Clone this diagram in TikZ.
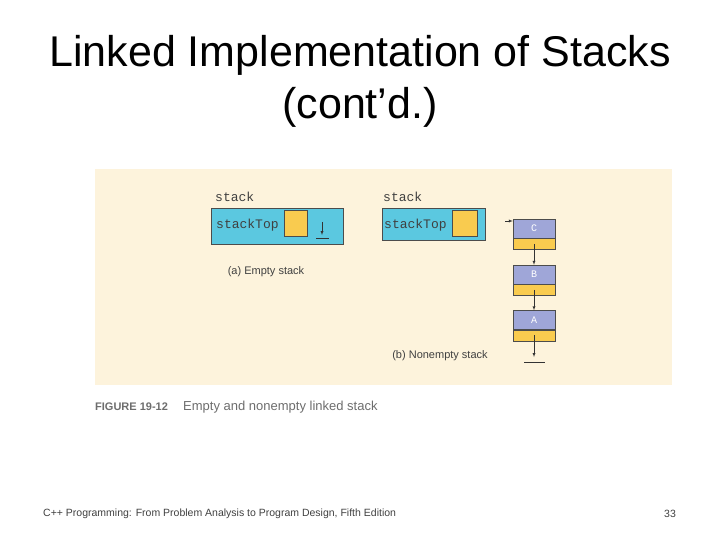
\documentclass[tikz,border=0pt]{standalone}
\usepackage{fontspec}
\setmainfont{Liberation Sans}
\setmonofont{Liberation Mono}
\usetikzlibrary{arrows, positioning}
\definecolor{cream}{HTML}{FDF3DC}
\definecolor{boxcyan}{HTML}{5BC8E0}
\definecolor{cellyel}{HTML}{F9CB4F}
\definecolor{cellpur}{HTML}{9FA6D8}
\definecolor{capgray}{HTML}{6D6D6D}

\begin{document}
\begin{tikzpicture}[x=1pt, y=-1pt,
    stackbox/.style={draw=black!70, fill=boxcyan},
    topcell/.style={draw=black!70, fill=cellyel},
    infocell/.style={rectangle, draw=black!70, fill=cellpur, minimum width=42pt, minimum height=19pt, inner sep=0pt, text=white, font=\ttfamily\fontsize{10}{11}\selectfont},
    linkcell/.style={rectangle, draw=black!70, fill=cellyel, minimum width=42pt, minimum height=11pt, inner sep=0pt},
    mono/.style={font=\ttfamily\fontsize{13}{14}\selectfont, text=black!75, inner sep=0pt},
    note/.style={font=\fontsize{11}{12}\selectfont, text=black!75, inner sep=0pt},
    link/.style={->, >=latex, black!80}
]
\useasboundingbox (0,0) rectangle (720,540);

% Title
\node[font=\fontsize{43}{52}\selectfont, align=center] (title) at (360,81) {Linked Implementation of Stacks\\(cont'd.)};

% Figure panel
\fill[cream] (95,169) rectangle (672,385);

% (a) empty stack
\node[mono, anchor=west] (labela) at (215,197) {stack};
\draw[stackbox] (211,208) rectangle (343,244);
\node[mono, anchor=west] (topa) at (216,225) {stackTop};
\draw[topcell] (284,210) rectangle (307,236);
\coordinate (nulla) at (322,235);
\draw[link] (322,222) -- (nulla);
\draw[black!80] (316,238) -- (329,238);
\node[note] (capa) at (266,272) {(a) Empty stack};

% (b) nonempty stack
\node[mono, anchor=west] (labelb) at (383,197) {stack};
\draw[stackbox] (382,208) rectangle (485,240);
\node[mono, anchor=west] (topb) at (384,225) {stackTop};
\draw[topcell] (452,210) rectangle (477,236);

\node[infocell] (c) at (534,228.5) {C};
\node[linkcell, below=0pt of c] (cl) {};
\node[infocell] (b) at (534,274.5) {B};
\node[linkcell, below=0pt of b] (bl) {};
\node[infocell] (a) at (534,320) {A};
\node[linkcell, below=0pt of a] (al) {};

\coordinate (ptr) at (505,221);
\draw[link] (ptr) -- (c.west |- ptr);
\draw[link] (cl.center) -- (b.north);
\draw[link] (bl.center) -- (a.north);
\coordinate (nullb) at (534,357);
\draw[link] (al.center) -- (nullb);
\draw[black!80] (524,362) -- (545,362);
\node[note] (capb) at (440,356) {(b) Nonempty stack};

% Caption
\node[font=\bfseries\fontsize{11}{12}\selectfont, text=capgray, anchor=west, inner sep=0pt] (fig) at (95,407) {FIGURE 19-12};
\node[font=\fontsize{13}{14}\selectfont, text=capgray, anchor=west, inner sep=0pt] (figtext) at (183,407) {Empty and nonempty linked stack};

% Footer
\node[font=\fontsize{10.5}{12}\selectfont, text=black!75, anchor=west, inner sep=0pt] (foot) at (43,514) {C++ Programming: From Problem Analysis to Program Design, Fifth Edition};
\node[font=\fontsize{10.5}{12}\selectfont, text=black!75, inner sep=0pt] (page) at (670,514) {33};
\end{tikzpicture}
\end{document}
